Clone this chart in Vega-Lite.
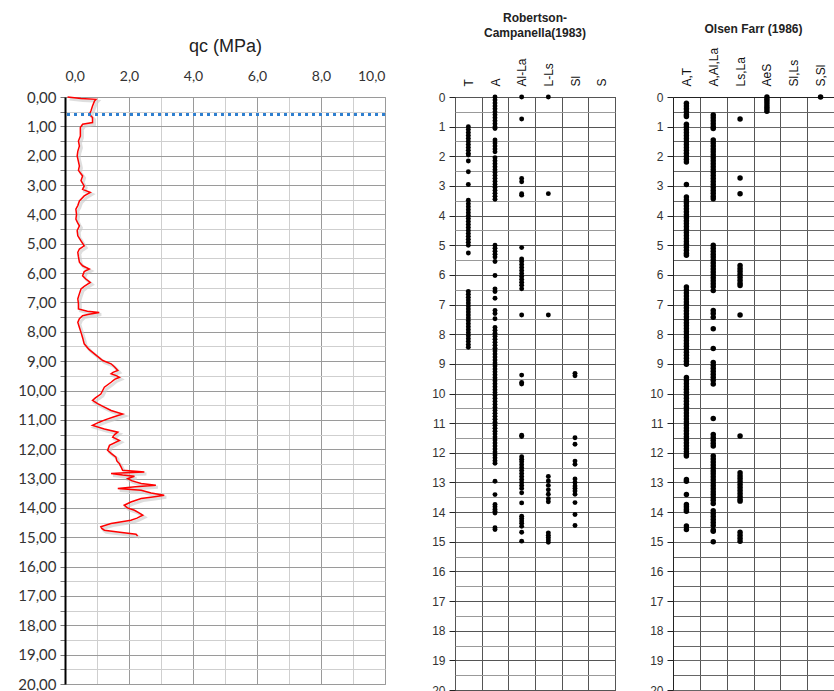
{
  "$schema": "https://vega.github.io/schema/vega-lite/v6.json",
  "background": "white",
  "padding": {"left": 5, "top": 11, "right": 0, "bottom": 0},
  "spacing": 10,
  "config": {"font": "Liberation Sans", "view": {"stroke": null}},
  "datasets": {
    "qc": [
      {"depth":0.00,"qc":0.08},{"depth":0.05,"qc":0.5},{"depth":0.08,"qc":0.97},{"depth":0.14,"qc":0.92},{"depth":0.31,"qc":0.86},{"depth":0.48,"qc":0.81},{"depth":0.59,"qc":0.76},{"depth":0.70,"qc":0.86},{"depth":0.87,"qc":0.86},{"depth":0.93,"qc":0.55},{"depth":1.04,"qc":0.48},{"depth":1.33,"qc":0.48},{"depth":1.50,"qc":0.42},{"depth":1.67,"qc":0.45},{"depth":1.85,"qc":0.40},{"depth":2.01,"qc":0.38},{"depth":2.20,"qc":0.42},{"depth":2.35,"qc":0.45},{"depth":2.50,"qc":0.42},{"depth":2.69,"qc":0.55},{"depth":2.85,"qc":0.50},{"depth":3.03,"qc":0.60},{"depth":3.15,"qc":0.55},{"depth":3.25,"qc":0.79},{"depth":3.37,"qc":0.60},{"depth":3.54,"qc":0.45},{"depth":3.70,"qc":0.40},{"depth":3.82,"qc":0.34},{"depth":4.00,"qc":0.36},{"depth":4.16,"qc":0.34},{"depth":4.30,"qc":0.40},{"depth":4.39,"qc":0.45},{"depth":4.55,"qc":0.38},{"depth":4.73,"qc":0.40},{"depth":4.90,"qc":0.50},{"depth":5.07,"qc":0.60},{"depth":5.18,"qc":0.45},{"depth":5.29,"qc":0.40},{"depth":5.45,"qc":0.42},{"depth":5.63,"qc":0.45},{"depth":5.75,"qc":0.55},{"depth":5.86,"qc":0.76},{"depth":5.95,"qc":0.60},{"depth":6.09,"qc":0.55},{"depth":6.20,"qc":0.65},{"depth":6.32,"qc":0.79},{"depth":6.45,"qc":0.60},{"depth":6.54,"qc":0.50},{"depth":6.70,"qc":0.45},{"depth":6.88,"qc":0.40},{"depth":7.05,"qc":0.42},{"depth":7.22,"qc":0.42},{"depth":7.30,"qc":0.70},{"depth":7.34,"qc":1.07},{"depth":7.40,"qc":0.75},{"depth":7.45,"qc":0.55},{"depth":7.55,"qc":0.45},{"depth":7.68,"qc":0.40},{"depth":7.85,"qc":0.45},{"depth":8.02,"qc":0.50},{"depth":8.20,"qc":0.55},{"depth":8.41,"qc":0.60},{"depth":8.60,"qc":0.75},{"depth":8.75,"qc":0.92},{"depth":8.98,"qc":1.18},{"depth":9.09,"qc":1.44},{"depth":9.20,"qc":1.55},{"depth":9.32,"qc":1.65},{"depth":9.38,"qc":1.50},{"depth":9.43,"qc":1.44},{"depth":9.50,"qc":1.62},{"depth":9.55,"qc":1.70},{"depth":9.62,"qc":1.55},{"depth":9.72,"qc":1.44},{"depth":9.89,"qc":1.23},{"depth":10.12,"qc":1.12},{"depth":10.25,"qc":0.95},{"depth":10.34,"qc":0.86},{"depth":10.45,"qc":1.02},{"depth":10.55,"qc":1.20},{"depth":10.68,"qc":1.44},{"depth":10.80,"qc":1.80},{"depth":10.91,"qc":1.49},{"depth":11.00,"qc":1.25},{"depth":11.08,"qc":1.07},{"depth":11.19,"qc":0.86},{"depth":11.31,"qc":1.23},{"depth":11.42,"qc":1.65},{"depth":11.50,"qc":1.55},{"depth":11.59,"qc":1.49},{"depth":11.70,"qc":1.70},{"depth":11.87,"qc":1.39},{"depth":12.04,"qc":1.33},{"depth":12.15,"qc":1.45},{"depth":12.27,"qc":1.59},{"depth":12.40,"qc":1.62},{"depth":12.49,"qc":1.70},{"depth":12.60,"qc":1.75},{"depth":12.72,"qc":1.80},{"depth":12.76,"qc":2.30},{"depth":12.78,"qc":2.48},{"depth":12.80,"qc":1.90},{"depth":12.83,"qc":1.44},{"depth":12.88,"qc":1.80},{"depth":12.92,"qc":2.17},{"depth":13.00,"qc":1.96},{"depth":13.08,"qc":2.10},{"depth":13.17,"qc":2.38},{"depth":13.23,"qc":2.84},{"depth":13.28,"qc":2.20},{"depth":13.34,"qc":1.65},{"depth":13.40,"qc":2.38},{"depth":13.49,"qc":2.69},{"depth":13.57,"qc":3.10},{"depth":13.62,"qc":2.80},{"depth":13.68,"qc":2.38},{"depth":13.80,"qc":2.06},{"depth":13.91,"qc":1.85},{"depth":14.00,"qc":1.95},{"depth":14.08,"qc":2.17},{"depth":14.16,"qc":2.30},{"depth":14.25,"qc":2.43},{"depth":14.35,"qc":2.25},{"depth":14.42,"qc":2.06},{"depth":14.53,"qc":1.44},{"depth":14.64,"qc":1.12},{"depth":14.70,"qc":1.15},{"depth":14.76,"qc":1.23},{"depth":14.82,"qc":1.65},{"depth":14.90,"qc":2.22},{"depth":14.96,"qc":2.27}
    ],
    "water": [{"depth": 0.6}],
    "rc": [
      {"class":"T","depth":1.0},{"class":"T","depth":1.1},{"class":"T","depth":1.2},{"class":"T","depth":1.3},{"class":"T","depth":1.4},{"class":"T","depth":1.5},{"class":"T","depth":1.6},{"class":"T","depth":1.7},{"class":"T","depth":1.8},{"class":"T","depth":1.9},{"class":"T","depth":1.96},{"class":"T","depth":2.16},{"class":"T","depth":2.52},{"class":"T","depth":2.95},
      {"class":"T","depth":3.48},{"class":"T","depth":3.6},{"class":"T","depth":3.7},{"class":"T","depth":3.8},{"class":"T","depth":3.9},{"class":"T","depth":4.0},{"class":"T","depth":4.1},{"class":"T","depth":4.2},{"class":"T","depth":4.3},{"class":"T","depth":4.4},{"class":"T","depth":4.5},{"class":"T","depth":4.6},{"class":"T","depth":4.7},{"class":"T","depth":4.8},{"class":"T","depth":4.9},{"class":"T","depth":5.0},{"class":"T","depth":5.26},
      {"class":"T","depth":6.56},{"class":"T","depth":6.65},{"class":"T","depth":6.75},{"class":"T","depth":6.85},{"class":"T","depth":6.95},{"class":"T","depth":7.05},{"class":"T","depth":7.15},{"class":"T","depth":7.25},{"class":"T","depth":7.35},{"class":"T","depth":7.45},{"class":"T","depth":7.55},{"class":"T","depth":7.65},{"class":"T","depth":7.75},{"class":"T","depth":7.85},{"class":"T","depth":7.95},{"class":"T","depth":8.05},{"class":"T","depth":8.15},{"class":"T","depth":8.25},{"class":"T","depth":8.35},{"class":"T","depth":8.44},
      {"class":"A","depth":0.0},{"class":"A","depth":0.1},{"class":"A","depth":0.2},{"class":"A","depth":0.3},{"class":"A","depth":0.4},{"class":"A","depth":0.5},{"class":"A","depth":0.6},{"class":"A","depth":0.7},{"class":"A","depth":0.8},{"class":"A","depth":0.9},{"class":"A","depth":1.0},{"class":"A","depth":1.06},
      {"class":"A","depth":1.45},{"class":"A","depth":1.55},{"class":"A","depth":1.65},{"class":"A","depth":1.75},{"class":"A","depth":1.85},{"class":"A","depth":2.05},{"class":"A","depth":2.15},{"class":"A","depth":2.25},{"class":"A","depth":2.35},{"class":"A","depth":2.45},{"class":"A","depth":2.55},{"class":"A","depth":2.65},{"class":"A","depth":2.75},{"class":"A","depth":2.85},{"class":"A","depth":2.95},{"class":"A","depth":3.05},{"class":"A","depth":3.15},{"class":"A","depth":3.25},{"class":"A","depth":3.35},{"class":"A","depth":3.45},
      {"class":"A","depth":5.0},{"class":"A","depth":5.1},{"class":"A","depth":5.2},{"class":"A","depth":5.3},{"class":"A","depth":5.4},{"class":"A","depth":5.55},{"class":"A","depth":6.02},{"class":"A","depth":6.47},{"class":"A","depth":6.56},{"class":"A","depth":6.79},{"class":"A","depth":7.2},{"class":"A","depth":7.3},{"class":"A","depth":7.48},
      {"class":"A","depth":7.77},{"class":"A","depth":7.87},{"class":"A","depth":7.97},{"class":"A","depth":8.07},{"class":"A","depth":8.17},{"class":"A","depth":8.27},{"class":"A","depth":8.37},{"class":"A","depth":8.47},{"class":"A","depth":8.57},{"class":"A","depth":8.67},{"class":"A","depth":8.77},{"class":"A","depth":8.87},{"class":"A","depth":8.97},{"class":"A","depth":9.07},{"class":"A","depth":9.17},{"class":"A","depth":9.27},{"class":"A","depth":9.37},{"class":"A","depth":9.47},{"class":"A","depth":9.57},{"class":"A","depth":9.67},{"class":"A","depth":9.77},{"class":"A","depth":9.87},{"class":"A","depth":9.97},{"class":"A","depth":10.07},{"class":"A","depth":10.17},{"class":"A","depth":10.27},{"class":"A","depth":10.37},{"class":"A","depth":10.47},{"class":"A","depth":10.57},{"class":"A","depth":10.67},{"class":"A","depth":10.77},{"class":"A","depth":10.87},{"class":"A","depth":10.97},{"class":"A","depth":11.07},{"class":"A","depth":11.17},{"class":"A","depth":11.27},{"class":"A","depth":11.37},{"class":"A","depth":11.47},{"class":"A","depth":11.57},{"class":"A","depth":11.67},{"class":"A","depth":11.77},{"class":"A","depth":11.87},{"class":"A","depth":11.97},{"class":"A","depth":12.07},{"class":"A","depth":12.17},{"class":"A","depth":12.27},{"class":"A","depth":12.35},
      {"class":"A","depth":12.96},{"class":"A","depth":13.41},{"class":"A","depth":13.74},{"class":"A","depth":13.82},{"class":"A","depth":13.9},{"class":"A","depth":13.97},{"class":"A","depth":14.03},{"class":"A","depth":14.53},{"class":"A","depth":14.59},
      {"class":"Al-La","depth":0.0},{"class":"Al-La","depth":0.74},{"class":"Al-La","depth":2.75},{"class":"Al-La","depth":2.86},{"class":"Al-La","depth":3.26},{"class":"Al-La","depth":3.31},{"class":"Al-La","depth":5.08},{"class":"Al-La","depth":5.46},{"class":"Al-La","depth":5.55},{"class":"Al-La","depth":5.65},{"class":"Al-La","depth":5.75},{"class":"Al-La","depth":5.85},{"class":"Al-La","depth":5.95},{"class":"Al-La","depth":6.05},{"class":"Al-La","depth":6.15},{"class":"Al-La","depth":6.25},{"class":"Al-La","depth":6.35},{"class":"Al-La","depth":6.47},{"class":"Al-La","depth":7.35},{"class":"Al-La","depth":9.38},{"class":"Al-La","depth":9.63},{"class":"Al-La","depth":9.68},{"class":"Al-La","depth":11.41},{"class":"Al-La","depth":11.45},
      {"class":"Al-La","depth":12.13},{"class":"Al-La","depth":12.22},{"class":"Al-La","depth":12.3},{"class":"Al-La","depth":12.4},{"class":"Al-La","depth":12.5},{"class":"Al-La","depth":12.6},{"class":"Al-La","depth":12.7},{"class":"Al-La","depth":12.8},{"class":"Al-La","depth":12.9},{"class":"Al-La","depth":13.0},{"class":"Al-La","depth":13.1},{"class":"Al-La","depth":13.2},{"class":"Al-La","depth":13.35},{"class":"Al-La","depth":13.69},{"class":"Al-La","depth":14.14},{"class":"Al-La","depth":14.22},{"class":"Al-La","depth":14.3},{"class":"Al-La","depth":14.38},{"class":"Al-La","depth":14.48},{"class":"Al-La","depth":14.68},{"class":"Al-La","depth":14.98},
      {"class":"L-Ls","depth":0.0},{"class":"L-Ls","depth":3.26},{"class":"L-Ls","depth":7.35},{"class":"L-Ls","depth":12.8},{"class":"L-Ls","depth":12.95},{"class":"L-Ls","depth":13.1},{"class":"L-Ls","depth":13.25},{"class":"L-Ls","depth":13.4},{"class":"L-Ls","depth":13.55},{"class":"L-Ls","depth":13.65},{"class":"L-Ls","depth":14.7},{"class":"L-Ls","depth":14.78},{"class":"L-Ls","depth":14.86},{"class":"L-Ls","depth":14.94},{"class":"L-Ls","depth":15.02},
      {"class":"Sl","depth":9.32},{"class":"Sl","depth":9.4},{"class":"Sl","depth":11.49},{"class":"Sl","depth":11.71},{"class":"Sl","depth":12.28},{"class":"Sl","depth":12.39},{"class":"Sl","depth":12.88},{"class":"Sl","depth":13.0},{"class":"Sl","depth":13.12},{"class":"Sl","depth":13.2},{"class":"Sl","depth":13.29},{"class":"Sl","depth":13.4},{"class":"Sl","depth":13.68},{"class":"Sl","depth":14.08},{"class":"Sl","depth":14.45}
    ],
    "of": [
      {"class":"A,T","depth":0.21},{"class":"A,T","depth":0.3},{"class":"A,T","depth":0.4},{"class":"A,T","depth":0.5},{"class":"A,T","depth":0.6},{"class":"A,T","depth":0.66},
      {"class":"A,T","depth":0.92},{"class":"A,T","depth":1.0},{"class":"A,T","depth":1.1},{"class":"A,T","depth":1.2},{"class":"A,T","depth":1.3},{"class":"A,T","depth":1.4},{"class":"A,T","depth":1.5},{"class":"A,T","depth":1.6},{"class":"A,T","depth":1.7},{"class":"A,T","depth":1.8},{"class":"A,T","depth":1.9},{"class":"A,T","depth":2.0},{"class":"A,T","depth":2.1},{"class":"A,T","depth":2.19},{"class":"A,T","depth":2.95},
      {"class":"A,T","depth":3.37},{"class":"A,T","depth":3.47},{"class":"A,T","depth":3.57},{"class":"A,T","depth":3.67},{"class":"A,T","depth":3.77},{"class":"A,T","depth":3.87},{"class":"A,T","depth":3.97},{"class":"A,T","depth":4.07},{"class":"A,T","depth":4.17},{"class":"A,T","depth":4.27},{"class":"A,T","depth":4.37},{"class":"A,T","depth":4.47},{"class":"A,T","depth":4.57},{"class":"A,T","depth":4.67},{"class":"A,T","depth":4.77},{"class":"A,T","depth":4.87},{"class":"A,T","depth":4.97},{"class":"A,T","depth":5.07},{"class":"A,T","depth":5.17},{"class":"A,T","depth":5.27},{"class":"A,T","depth":5.34},
      {"class":"A,T","depth":6.41},{"class":"A,T","depth":6.51},{"class":"A,T","depth":6.61},{"class":"A,T","depth":6.71},{"class":"A,T","depth":6.81},{"class":"A,T","depth":6.91},{"class":"A,T","depth":7.01},{"class":"A,T","depth":7.11},{"class":"A,T","depth":7.21},{"class":"A,T","depth":7.31},{"class":"A,T","depth":7.41},{"class":"A,T","depth":7.51},{"class":"A,T","depth":7.61},{"class":"A,T","depth":7.71},{"class":"A,T","depth":7.81},{"class":"A,T","depth":7.91},{"class":"A,T","depth":8.01},{"class":"A,T","depth":8.11},{"class":"A,T","depth":8.21},{"class":"A,T","depth":8.31},{"class":"A,T","depth":8.41},{"class":"A,T","depth":8.51},{"class":"A,T","depth":8.61},{"class":"A,T","depth":8.71},{"class":"A,T","depth":8.81},{"class":"A,T","depth":8.91},{"class":"A,T","depth":9.01},
      {"class":"A,T","depth":9.46},{"class":"A,T","depth":9.56},{"class":"A,T","depth":9.66},{"class":"A,T","depth":9.76},{"class":"A,T","depth":9.86},{"class":"A,T","depth":9.96},{"class":"A,T","depth":10.06},{"class":"A,T","depth":10.16},{"class":"A,T","depth":10.26},{"class":"A,T","depth":10.36},{"class":"A,T","depth":10.46},{"class":"A,T","depth":10.56},{"class":"A,T","depth":10.66},{"class":"A,T","depth":10.76},{"class":"A,T","depth":10.86},{"class":"A,T","depth":10.96},{"class":"A,T","depth":11.06},{"class":"A,T","depth":11.16},{"class":"A,T","depth":11.26},{"class":"A,T","depth":11.36},{"class":"A,T","depth":11.46},{"class":"A,T","depth":11.56},{"class":"A,T","depth":11.66},{"class":"A,T","depth":11.76},{"class":"A,T","depth":11.86},{"class":"A,T","depth":11.96},{"class":"A,T","depth":12.06},{"class":"A,T","depth":12.11},
      {"class":"A,T","depth":12.9},{"class":"A,T","depth":12.96},{"class":"A,T","depth":13.41},{"class":"A,T","depth":13.74},{"class":"A,T","depth":13.82},{"class":"A,T","depth":13.9},{"class":"A,T","depth":13.97},{"class":"A,T","depth":14.47},{"class":"A,T","depth":14.59},
      {"class":"A,Al,La","depth":0.61},{"class":"A,Al,La","depth":0.7},{"class":"A,Al,La","depth":0.8},{"class":"A,Al,La","depth":0.9},{"class":"A,Al,La","depth":1.0},{"class":"A,Al,La","depth":1.06},
      {"class":"A,Al,La","depth":1.45},{"class":"A,Al,La","depth":1.55},{"class":"A,Al,La","depth":1.65},{"class":"A,Al,La","depth":1.75},{"class":"A,Al,La","depth":1.85},{"class":"A,Al,La","depth":1.95},{"class":"A,Al,La","depth":2.05},{"class":"A,Al,La","depth":2.15},{"class":"A,Al,La","depth":2.25},{"class":"A,Al,La","depth":2.35},{"class":"A,Al,La","depth":2.45},{"class":"A,Al,La","depth":2.55},{"class":"A,Al,La","depth":2.65},{"class":"A,Al,La","depth":2.75},{"class":"A,Al,La","depth":2.85},{"class":"A,Al,La","depth":2.95},{"class":"A,Al,La","depth":3.05},{"class":"A,Al,La","depth":3.15},{"class":"A,Al,La","depth":3.25},{"class":"A,Al,La","depth":3.35},{"class":"A,Al,La","depth":3.43},
      {"class":"A,Al,La","depth":5.0},{"class":"A,Al,La","depth":5.1},{"class":"A,Al,La","depth":5.2},{"class":"A,Al,La","depth":5.3},{"class":"A,Al,La","depth":5.4},{"class":"A,Al,La","depth":5.5},{"class":"A,Al,La","depth":5.6},{"class":"A,Al,La","depth":5.7},{"class":"A,Al,La","depth":5.8},{"class":"A,Al,La","depth":5.9},{"class":"A,Al,La","depth":6.0},{"class":"A,Al,La","depth":6.1},{"class":"A,Al,La","depth":6.2},{"class":"A,Al,La","depth":6.3},{"class":"A,Al,La","depth":6.4},{"class":"A,Al,La","depth":6.53},
      {"class":"A,Al,La","depth":7.2},{"class":"A,Al,La","depth":7.3},{"class":"A,Al,La","depth":7.43},{"class":"A,Al,La","depth":7.82},{"class":"A,Al,La","depth":8.48},{"class":"A,Al,La","depth":8.95},{"class":"A,Al,La","depth":9.05},{"class":"A,Al,La","depth":9.15},{"class":"A,Al,La","depth":9.25},{"class":"A,Al,La","depth":9.35},{"class":"A,Al,La","depth":9.45},{"class":"A,Al,La","depth":9.55},{"class":"A,Al,La","depth":9.68},{"class":"A,Al,La","depth":10.84},{"class":"A,Al,La","depth":11.38},{"class":"A,Al,La","depth":11.48},{"class":"A,Al,La","depth":11.58},{"class":"A,Al,La","depth":11.68},{"class":"A,Al,La","depth":11.77},
      {"class":"A,Al,La","depth":12.11},{"class":"A,Al,La","depth":12.21},{"class":"A,Al,La","depth":12.31},{"class":"A,Al,La","depth":12.41},{"class":"A,Al,La","depth":12.51},{"class":"A,Al,La","depth":12.61},{"class":"A,Al,La","depth":12.71},{"class":"A,Al,La","depth":12.81},{"class":"A,Al,La","depth":12.91},{"class":"A,Al,La","depth":13.01},{"class":"A,Al,La","depth":13.11},{"class":"A,Al,La","depth":13.21},{"class":"A,Al,La","depth":13.31},{"class":"A,Al,La","depth":13.41},{"class":"A,Al,La","depth":13.51},{"class":"A,Al,La","depth":13.6},{"class":"A,Al,La","depth":13.71},{"class":"A,Al,La","depth":13.95},{"class":"A,Al,La","depth":14.05},{"class":"A,Al,La","depth":14.15},{"class":"A,Al,La","depth":14.25},{"class":"A,Al,La","depth":14.35},{"class":"A,Al,La","depth":14.45},{"class":"A,Al,La","depth":14.6},{"class":"A,Al,La","depth":14.65},{"class":"A,Al,La","depth":15.0},
      {"class":"Ls,La","depth":0.74},{"class":"Ls,La","depth":2.73},{"class":"Ls,La","depth":3.26},{"class":"Ls,La","depth":5.68},{"class":"Ls,La","depth":5.78},{"class":"Ls,La","depth":5.88},{"class":"Ls,La","depth":5.98},{"class":"Ls,La","depth":6.08},{"class":"Ls,La","depth":6.18},{"class":"Ls,La","depth":6.28},{"class":"Ls,La","depth":6.36},{"class":"Ls,La","depth":7.35},{"class":"Ls,La","depth":11.43},
      {"class":"Ls,La","depth":12.67},{"class":"Ls,La","depth":12.77},{"class":"Ls,La","depth":12.87},{"class":"Ls,La","depth":12.97},{"class":"Ls,La","depth":13.07},{"class":"Ls,La","depth":13.17},{"class":"Ls,La","depth":13.27},{"class":"Ls,La","depth":13.37},{"class":"Ls,La","depth":13.47},{"class":"Ls,La","depth":13.57},{"class":"Ls,La","depth":13.63},{"class":"Ls,La","depth":14.68},{"class":"Ls,La","depth":14.78},{"class":"Ls,La","depth":14.88},{"class":"Ls,La","depth":14.98},
      {"class":"AeS","depth":0.0},{"class":"AeS","depth":0.08},{"class":"AeS","depth":0.16},{"class":"AeS","depth":0.24},{"class":"AeS","depth":0.32},{"class":"AeS","depth":0.4},{"class":"AeS","depth":0.48},
      {"class":"S,Sl","depth":0.0}
    ]
  },
  "hconcat": [
    {
      "width": 320,
      "height": 587,
      "view": {"stroke": "#a0a0a0"},
      "encoding": {
        "y": {"field": "depth", "type": "quantitative", "scale": {"domain": [0, 20], "reverse": true, "nice": false},
          "axis": {"title": null, "values": [0,0.5,1,1.5,2,2.5,3,3.5,4,4.5,5,5.5,6,6.5,7,7.5,8,8.5,9,9.5,10,10.5,11,11.5,12,12.5,13,13.5,14,14.5,15,15.5,16,16.5,17,17.5,18,18.5,19,19.5,20],
            "labelExpr": "datum.value % 1 ? '' : replace(format(datum.value, '.2f'), '.', ',')", "labelOverlap": false,
            "labelFont": "Lato", "labelFontSize": 15, "labelColor": "#333", "labelPadding": 4, "tickSize": 5, "tickColor": "#777",
            "minExtent": 59, "maxExtent": 59,
            "domain": true, "domainColor": "#000", "domainWidth": 2,
            "grid": true, "gridColor": {"condition": {"test": "datum.value % 1", "value": "#cfcfcf"}, "value": "#9a9a9a"}, "gridOpacity": 1}}
      },
      "layer": [
        {
          "data": {"name": "qc"},
          "mark": {"type": "line", "color": "#c8c8c8", "strokeWidth": 3, "opacity": 0.6, "xOffset": 2, "yOffset": 2},
          "encoding": {
            "x": {"field": "qc", "type": "quantitative", "scale": {"domain": [0, 10], "nice": false},
              "axis": {"orient": "top", "title": "qc (MPa)", "titleFont": "Liberation Sans", "titleFontSize": 18, "titleFontWeight": "normal", "titleColor": "#222", "titlePadding": 14,
                "values": [0,1,2,3,4,5,6,7,8,9,10], "labelExpr": "datum.value % 2 ? '' : replace(format(datum.value, '.1f'), '.', ',')", "labelOverlap": false,
                "labelFont": "Lato", "labelFontSize": 14, "labelColor": "#333", "labelPadding": 14, "ticks": false, "domain": false,
                "grid": true, "gridColor": {"condition": {"test": "datum.value % 2", "value": "#cfcfcf"}, "value": "#9a9a9a"}, "gridOpacity": 1}},
            "order": {"field": "depth", "type": "quantitative"}
          }
        },
        {
          "data": {"name": "qc"},
          "mark": {"type": "line", "color": "#ff0000", "strokeWidth": 1.5},
          "encoding": {
            "x": {"field": "qc", "type": "quantitative", "scale": {"domain": [0, 10], "nice": false},
              "axis": {"orient": "top", "title": "qc (MPa)", "titleFont": "Liberation Sans", "titleFontSize": 18, "titleFontWeight": "normal", "titleColor": "#222", "titlePadding": 14,
                "values": [0,1,2,3,4,5,6,7,8,9,10], "labelExpr": "datum.value % 2 ? '' : replace(format(datum.value, '.1f'), '.', ',')", "labelOverlap": false,
                "labelFont": "Lato", "labelFontSize": 14, "labelColor": "#333", "labelPadding": 14, "ticks": false, "domain": false,
                "grid": true, "gridColor": {"condition": {"test": "datum.value % 2", "value": "#cfcfcf"}, "value": "#9a9a9a"}, "gridOpacity": 1}},
            "order": {"field": "depth", "type": "quantitative"}
          }
        },
        {
          "data": {"name": "water"},
          "mark": {"type": "rule", "color": "#2e7fd0", "strokeWidth": 3, "strokeDash": [3, 4]},
          "encoding": {}
        }
      ]
    },
    {
      "width": 160,
      "height": 593,
      "title": {"text": ["Robertson-", "Campanella(1983)"], "font": "Liberation Sans", "fontSize": 12, "fontWeight": "bold", "color": "#222", "lineHeight": 15, "offset": 18},
      "view": {"stroke": "#222"},
      "data": {"name": "rc"},
      "mark": {"type": "circle", "color": "#000", "size": 24, "opacity": 1},
      "encoding": {
        "x": {"field": "class", "type": "nominal",
          "scale": {"type": "band", "domain": ["T", "A", "Al-La", "L-Ls", "Sl", "S"], "paddingInner": 0, "paddingOuter": 0},
          "axis": {"orient": "top", "title": null, "labelAngle": -90, "tickBand": "extent", "ticks": false, "tickSize": 0, "labelPadding": 11,
            "labelFontSize": 12, "labelColor": "#111", "domain": false, "grid": true, "gridColor": "#555"}},
        "y": {"field": "depth", "type": "quantitative", "scale": {"domain": [0, 20], "reverse": true, "nice": false},
          "axis": {"title": null, "values": [0,0.5,1,1.5,2,2.5,3,3.5,4,4.5,5,5.5,6,6.5,7,7.5,8,8.5,9,9.5,10,10.5,11,11.5,12,12.5,13,13.5,14,14.5,15,15.5,16,16.5,17,17.5,18,18.5,19,19.5,20],
            "labelExpr": "datum.value % 1 ? '' : format(datum.value, 'd')", "labelOverlap": false, "labelFontSize": 12, "labelColor": "#333", "labelPadding": 4,
            "minExtent": 57, "maxExtent": 57,
            "tickSize": 6, "tickColor": "#222", "tickOpacity": {"condition": {"test": "datum.value % 1", "value": 0}, "value": 1},
            "domain": false, "grid": true, "gridColor": {"condition": {"test": "datum.value % 1", "value": "#999"}, "value": "#555"}}}
      }
    },
    {
      "width": 161,
      "height": 593,
      "title": {"text": "Olsen Farr (1986)", "font": "Liberation Sans", "fontSize": 12, "fontWeight": "bold", "color": "#222", "offset": 11},
      "data": {"name": "of"},
      "mark": {"type": "circle", "color": "#000", "size": 30, "opacity": 1},
      "encoding": {
        "x": {"field": "class", "type": "nominal",
          "scale": {"type": "band", "domain": ["A,T", "A,Al,La", "Ls,La", "AeS", "Sl,Ls", "S,Sl"], "paddingInner": 0, "paddingOuter": 0},
          "axis": {"orient": "top", "title": null, "labelAngle": -90, "tickBand": "extent", "ticks": false, "tickSize": 0, "labelPadding": 11,
            "labelFontSize": 12, "labelColor": "#111", "domain": false, "grid": true, "gridColor": "#555",
            "gridOpacity": {"condition": {"test": "datum.value === 'S,Sl'", "value": 0}, "value": 1}}},
        "y": {"field": "depth", "type": "quantitative", "scale": {"domain": [0, 20], "reverse": true, "nice": false},
          "axis": {"title": null, "values": [0,0.5,1,1.5,2,2.5,3,3.5,4,4.5,5,5.5,6,6.5,7,7.5,8,8.5,9,9.5,10,10.5,11,11.5,12,12.5,13,13.5,14,14.5,15,15.5,16,16.5,17,17.5,18,18.5,19,19.5,20],
            "labelExpr": "datum.value % 1 ? '' : format(datum.value, 'd')", "labelOverlap": false, "labelFontSize": 12, "labelColor": "#333", "labelPadding": 4,
            "minExtent": 47, "maxExtent": 47,
            "tickSize": 6, "tickColor": "#222", "tickOpacity": {"condition": {"test": "datum.value % 1", "value": 0}, "value": 1},
            "domain": true, "domainColor": "#222",
            "grid": true, "gridColor": {"condition": {"test": "datum.value === 0", "value": "#222"}, "value": "#666"}}}
      }
    }
  ]
}
